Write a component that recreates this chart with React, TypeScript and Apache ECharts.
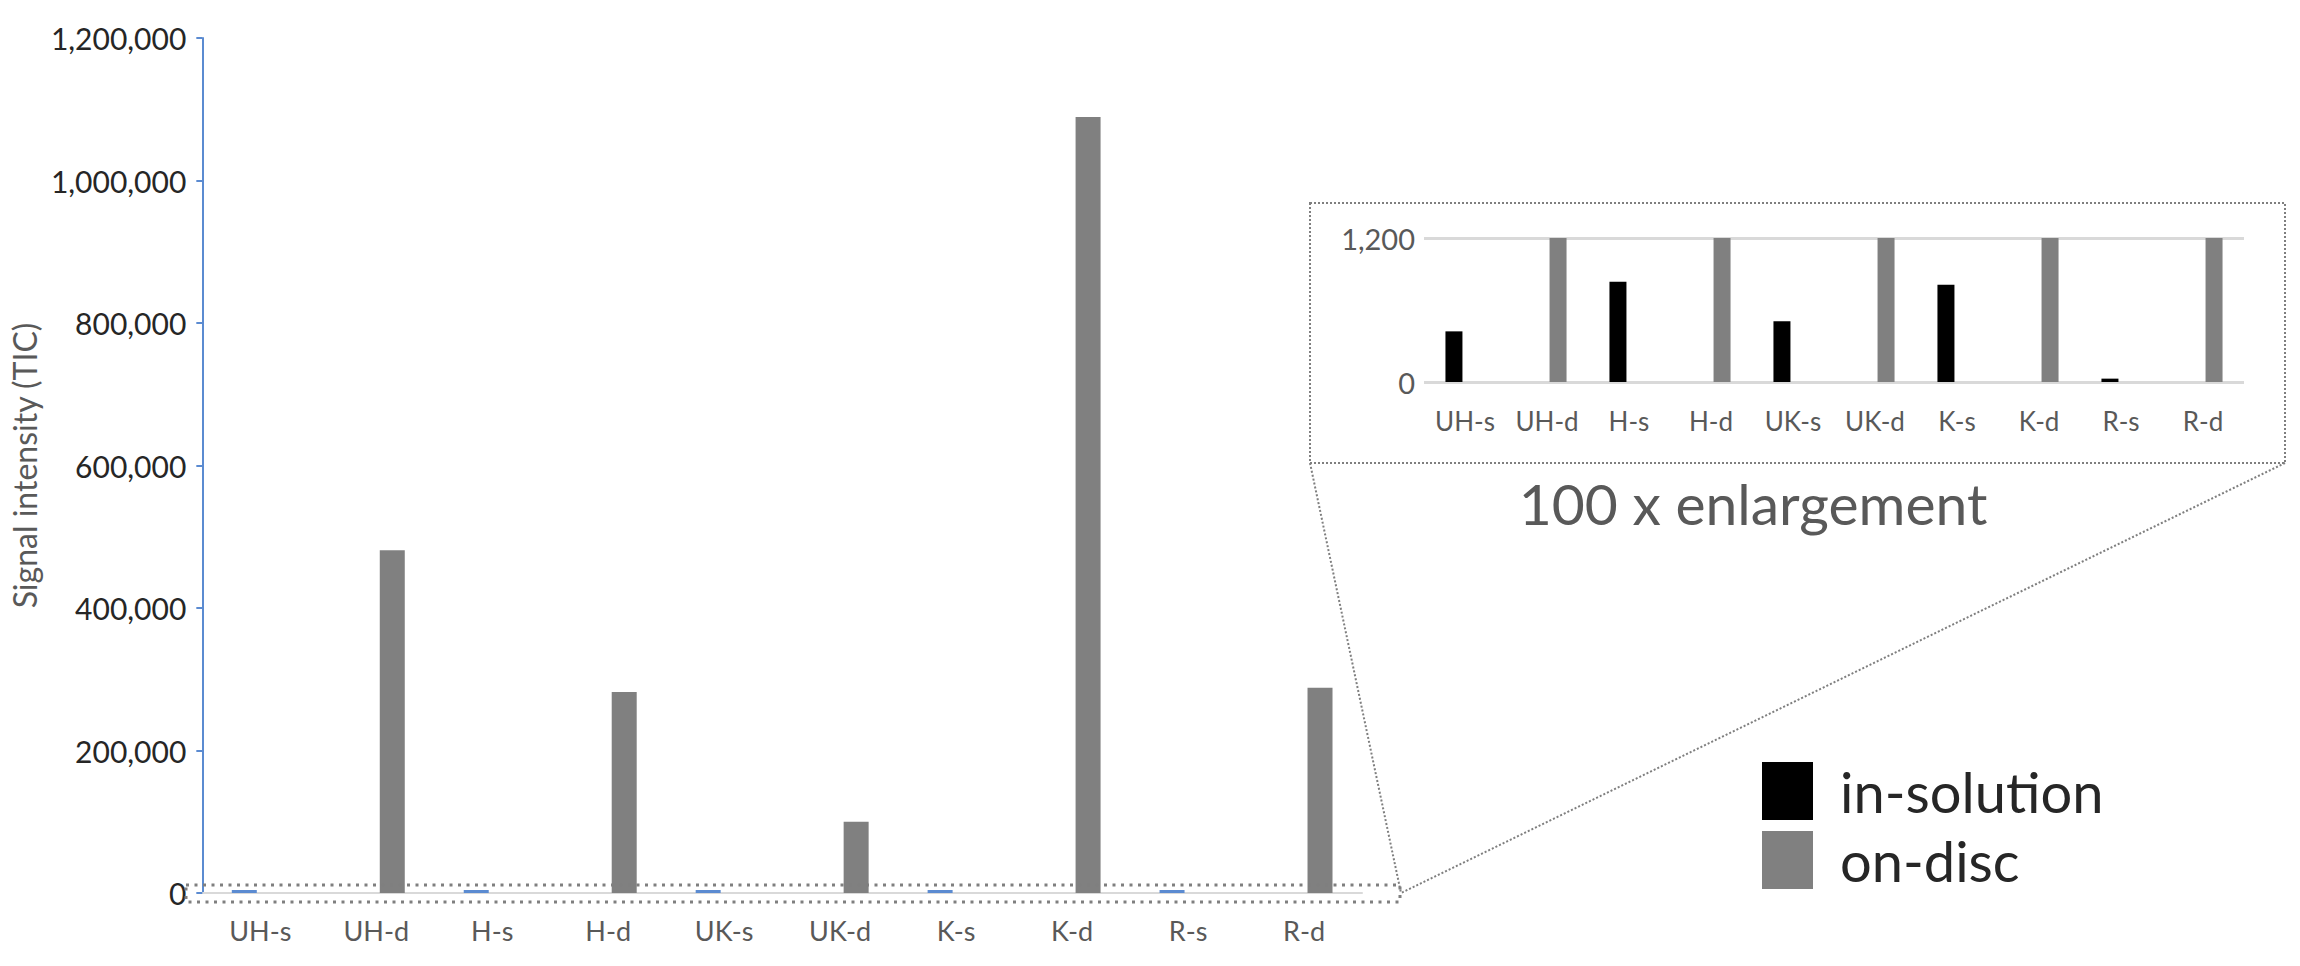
import React, { useEffect, useRef } from "react";
import * as echarts from "echarts";

// ---- data ----
const categories = ["UH-s", "UH-d", "H-s", "H-d", "UK-s", "UK-d", "K-s", "K-d", "R-s", "R-d"];
const inSolution = [422, null, 836, null, 506, null, 811, null, 28, null];
const onDisc = [null, 481000, null, 282000, null, 100000, null, 1089000, null, 288000];
const mainYMax = 1200000;
const mainYStep = 200000;
const insetYMax = 1200;
const insetYStep = 1200;
const seriesNames = ["in-solution", "on-disc"];
const insetCaption = "100 x enlargement";
const yTitle = "Signal intensity (TIC)";

const FONT = "Lato";
const fmt = (v: number) => v.toLocaleString("en-US");

export default function App() {
  const ref = useRef<HTMLDivElement>(null);
  useEffect(() => {
    document.body.style.margin = "0";
    const chart = echarts.init(ref.current!, null, { renderer: "svg" });
    const dotted = { stroke: "#7f7f7f", fill: "none" };
    chart.setOption({
      animation: false,
      backgroundColor: "#ffffff",
      textStyle: { fontFamily: FONT },
      grid: [
        { left: 200, right: 938, top: 38, bottom: 73 },
        { left: 1424, right: 56, top: 238, bottom: 584 },
      ],
      xAxis: [
        {
          type: "category",
          gridIndex: 0,
          data: categories,
          axisLine: { show: true, lineStyle: { color: "#d9d9d9", width: 2 } },
          axisTick: { show: false },
          axisLabel: { color: "#595959", fontSize: 27, margin: 24, fontFamily: FONT, interval: 0 },
        },
        {
          type: "category",
          gridIndex: 1,
          data: categories,
          axisLine: { show: false },
          axisTick: { show: false },
          axisLabel: { color: "#595959", fontSize: 26, margin: 26, fontFamily: FONT, interval: 0 },
        },
      ],
      yAxis: [
        {
          type: "value",
          gridIndex: 0,
          min: 0,
          max: mainYMax,
          interval: mainYStep,
          name: yTitle,
          nameLocation: "middle",
          nameRotate: 90,
          nameGap: 150,
          nameTextStyle: { color: "#595959", fontSize: 32, fontFamily: FONT },
          axisLine: { show: true, lineStyle: { color: "#5b8bd1", width: 2 } },
          axisTick: { show: true, length: 6, lineStyle: { color: "#5b8bd1", width: 2 } },
          splitLine: { show: false },
          axisLabel: { color: "#262626", fontSize: 30, margin: 16, fontFamily: FONT, formatter: fmt },
        },
        {
          type: "value",
          gridIndex: 1,
          min: 0,
          max: insetYMax,
          interval: insetYStep,
          axisLine: { show: false },
          axisTick: { show: false },
          splitLine: { show: true, lineStyle: { color: "#d9d9d9", width: 3 } },
          axisLabel: { color: "#595959", fontSize: 29, margin: 9, fontFamily: FONT, formatter: fmt },
        },
      ],
      legend: {
        left: 1757,
        top: 757,
        orient: "vertical",
        icon: "rect",
        itemWidth: 51,
        itemHeight: 58,
        itemGap: 11,
        selectedMode: false,
        data: [
          { name: seriesNames[0], itemStyle: { color: "#000000" } },
          { name: seriesNames[1], itemStyle: { color: "#808080" } },
        ],
        textStyle: { fontFamily: FONT, fontSize: 56, color: "#262626", padding: [0, 0, 0, 22] },
      },
      series: [
        {
          name: seriesNames[0],
          type: "bar",
          xAxisIndex: 0,
          yAxisIndex: 0,
          data: inSolution,
          barWidth: 25,
          barGap: "28%",
          barMinHeight: 3,
          itemStyle: { color: "#5b8bd1" },
        },
        {
          name: seriesNames[1],
          type: "bar",
          xAxisIndex: 0,
          yAxisIndex: 0,
          data: onDisc,
          barWidth: 25,
          barGap: "28%",
          itemStyle: { color: "#808080" },
        },
        {
          name: seriesNames[0],
          type: "bar",
          xAxisIndex: 1,
          yAxisIndex: 1,
          data: inSolution,
          barWidth: 17,
          barGap: "30%",
          clip: true,
          itemStyle: { color: "#000000" },
        },
        {
          name: seriesNames[1],
          type: "bar",
          xAxisIndex: 1,
          yAxisIndex: 1,
          data: onDisc,
          barWidth: 17,
          barGap: "30%",
          clip: true,
          itemStyle: { color: "#808080" },
        },
      ],
      graphic: [
        {
          type: "rect",
          shape: { x: 186, y: 885, width: 1214, height: 17 },
          style: { ...dotted, lineWidth: 3, lineDash: [3, 5.5] },
          z: 10,
        },
        {
          type: "rect",
          shape: { x: 1310, y: 203, width: 975, height: 260 },
          style: { ...dotted, lineWidth: 2, lineDash: [2, 2] },
        },
        {
          type: "line",
          shape: { x1: 1310, y1: 463, x2: 1401, y2: 893 },
          style: { ...dotted, lineWidth: 2, lineDash: [2, 2] },
        },
        {
          type: "line",
          shape: { x1: 2285, y1: 463, x2: 1401, y2: 893 },
          style: { ...dotted, lineWidth: 2, lineDash: [2, 2] },
        },
        {
          type: "text",
          x: 1753,
          y: 503,
          style: {
            text: insetCaption,
            fontFamily: FONT,
            fontSize: 57,
            fill: "#595959",
            align: "center",
            verticalAlign: "middle",
          },
        },
      ],
    });
    return () => chart.dispose();
  }, []);
  return <div ref={ref} style={{ width: 2300, height: 966 }} />;
}
